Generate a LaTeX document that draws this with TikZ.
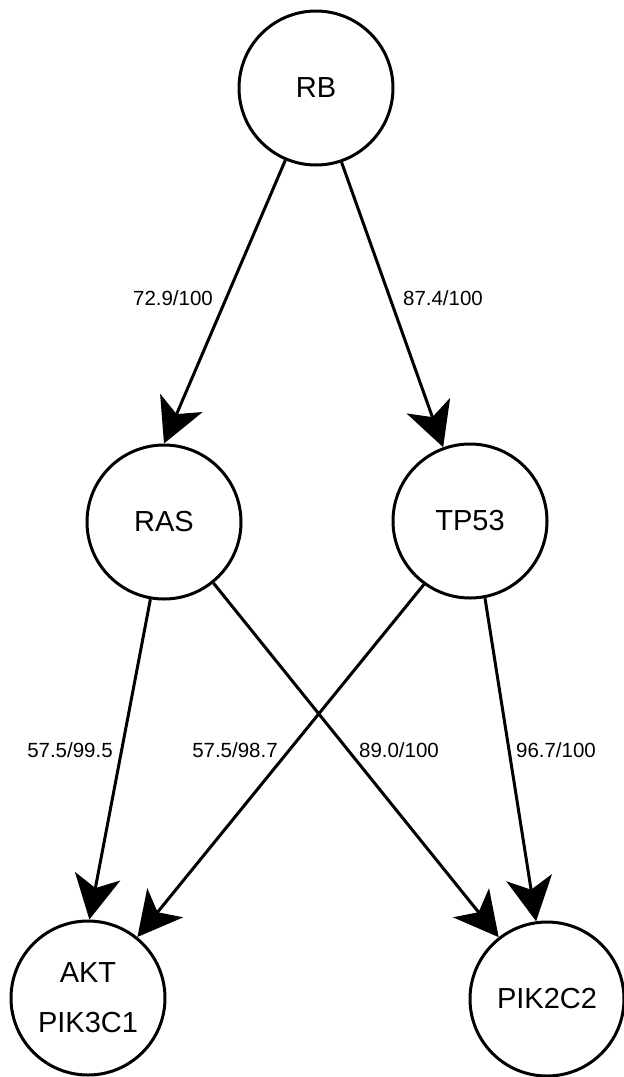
\documentclass[tikz,border=0pt]{standalone}
\usepackage{fontspec}
\setmainfont{Liberation Sans}
\usetikzlibrary{arrows.meta}
\begin{document}
\begin{tikzpicture}[x=1pt,y=-1pt,
  gene/.style={circle,draw=black,line width=3pt,minimum size=154pt,inner sep=0pt,font=\fontsize{29}{50}\selectfont,align=center},
  link/.style={line width=3pt,-{Stealth[length=44pt,width=46pt,inset=12pt]}},
  lab/.style={font=\fontsize{20.5}{24}\selectfont,inner sep=0pt}]
\useasboundingbox (0,0) rectangle (624,1077);
\node[gene] (RB) at (316,88) {RB};
\node[gene] (RAS) at (164,522) {RAS};
\node[gene] (TP53) at (470,521) {TP53};
\node[gene] (AKT) at (88,998) {AKT\\PIK3C1};
\node[gene] (PIK) at (547,999) {PIK2C2};
\draw[link] (RB.247.5) -- (RAS.90);
\draw[link] (RB.289) -- (TP53.110);
\draw[link] (RAS.260) -- (AKT.89);
\draw[link] (RAS.309) -- (PIK.128);
\draw[link] (TP53.234) -- (AKT.51);
\draw[link] (TP53.281) -- (PIK.98);
\node[lab] (l1) at (173,298) {72.9/100};
\node[lab] (l2) at (443,298) {87.4/100};
\node[lab] (l3) at (70,750) {57.5/99.5};
\node[lab] (l4) at (235,750) {57.5/98.7};
\node[lab] (l5) at (399,750) {89.0/100};
\node[lab] (l6) at (556,750) {96.7/100};
\end{tikzpicture}
\end{document}
